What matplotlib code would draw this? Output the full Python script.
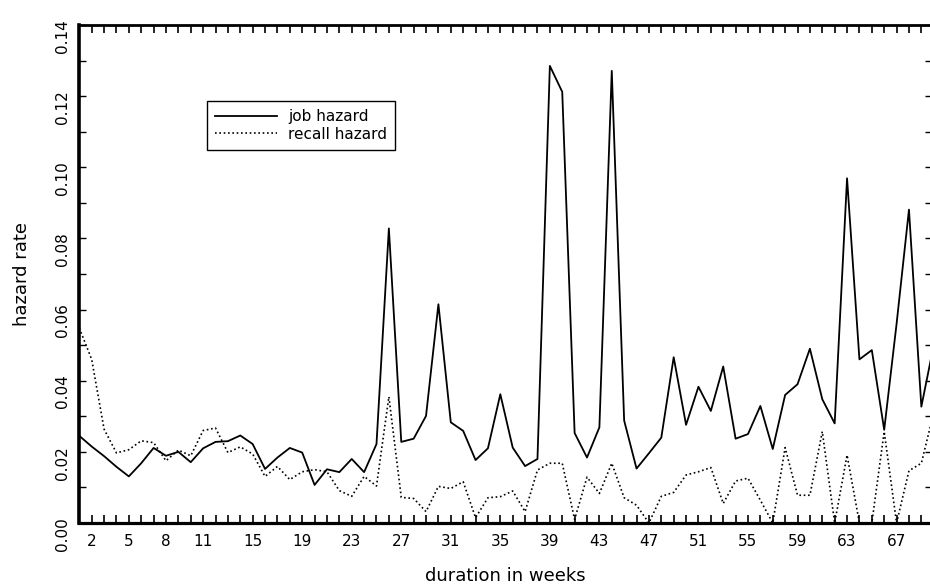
import numpy as np
import matplotlib
matplotlib.use("Agg")
import matplotlib.pyplot as plt

weeks = list(range(1, 71))

job_hazard = [
    0.0245, 0.0215, 0.0188, 0.0158, 0.0131, 0.0168, 0.0211, 0.0189, 0.0200, 0.0171,
    0.0210, 0.0228, 0.0230, 0.0246, 0.0222, 0.0152, 0.0184, 0.0211, 0.0198, 0.0107,
    0.0151, 0.0143, 0.0180, 0.0143, 0.0222, 0.0828, 0.0228, 0.0237, 0.0301, 0.0615,
    0.0283, 0.0259, 0.0177, 0.0210, 0.0362, 0.0212, 0.0160, 0.0180, 0.1285, 0.1212,
    0.0253, 0.0184, 0.0269, 0.1271, 0.0288, 0.0153, 0.0196, 0.0240, 0.0466, 0.0276,
    0.0383, 0.0315, 0.0440, 0.0237, 0.0250, 0.0329, 0.0208, 0.0360, 0.0390, 0.0490,
    0.0348, 0.0280, 0.0969, 0.0460, 0.0486, 0.0262, 0.0560, 0.0881, 0.0327, 0.0500,
]

recall_hazard = [
    0.0548, 0.0460, 0.0264, 0.0197, 0.0206, 0.0231, 0.0226, 0.0175, 0.0205, 0.0189,
    0.0260, 0.0267, 0.0198, 0.0214, 0.0194, 0.0131, 0.0159, 0.0122, 0.0144, 0.0150,
    0.0144, 0.0091, 0.0075, 0.0131, 0.0104, 0.0355, 0.0072, 0.0069, 0.0032, 0.0103,
    0.0097, 0.0116, 0.0015, 0.0071, 0.0074, 0.0090, 0.0032, 0.0149, 0.0168, 0.0168,
    0.0010, 0.0129, 0.0083, 0.0168, 0.0071, 0.0050, 0.0000, 0.0075, 0.0086, 0.0135,
    0.0144, 0.0156, 0.0055, 0.0118, 0.0126, 0.0064, 0.0000, 0.0212, 0.0078, 0.0078,
    0.0257, 0.0000, 0.0191, 0.0000, 0.0000, 0.0257, 0.0000, 0.0147, 0.0168, 0.0310,
]

x_label_weeks = [2, 5, 8, 11, 15, 19, 23, 27, 31, 35, 39, 43, 47, 51, 55, 59, 63, 67]
y_ticks = [round(0.01 * i, 2) for i in range(15)]

W, H = 930, 588
fig = plt.figure(figsize=(W / 100, H / 100), dpi=100)
ax = fig.add_axes([79.3 / W, (H - 523) / H, (931.5 - 79.3) / W, (523 - 25) / H])

ax.plot(weeks, job_hazard, color="black", lw=1.3, label="job hazard")
ax.plot(weeks, recall_hazard, color="black", lw=1.2, ls=(0, (1, 1.6)),
        label="recall hazard")

ax.set_xlim(1, 69.82)
ax.set_ylim(0, 0.14)

tick_weeks = [w for w in weeks if w <= 69]
ax.set_xticks(tick_weeks)
ax.set_xticklabels([str(w) if w in x_label_weeks else "" for w in tick_weeks])
ax.set_yticks(y_ticks)
ax.set_yticklabels([f"{v:.2f}" if i % 2 == 0 else "" for i, v in enumerate(y_ticks)])

ax.tick_params(axis="x", which="major", direction="in", length=6, width=1.2,
               top=True, labelsize=11, pad=8, colors="black")
ax.tick_params(axis="y", which="major", direction="in", length=5, width=1.0,
               right=True, labelsize=11, pad=7, labelrotation=90, colors="black")

ax.spines["left"].set_linewidth(2.6)
ax.spines["bottom"].set_linewidth(2.3)
ax.spines["top"].set_linewidth(2.0)
ax.spines["right"].set_linewidth(1.0)

ax.set_xlabel("duration in weeks", fontsize=13, labelpad=13)
ax.set_ylabel("hazard rate", fontsize=13, labelpad=17)

leg = ax.legend(loc="upper left", bbox_to_anchor=(207 / W, 1 - 101 / H),
                bbox_transform=fig.transFigure, borderaxespad=0, frameon=True,
                fancybox=False, edgecolor="black", framealpha=1, fontsize=11,
                handlelength=4.0, handletextpad=0.75, borderpad=0.55,
                labelspacing=0.15)
leg.get_frame().set_linewidth(1.0)

fig.savefig("out.png", dpi=100)
